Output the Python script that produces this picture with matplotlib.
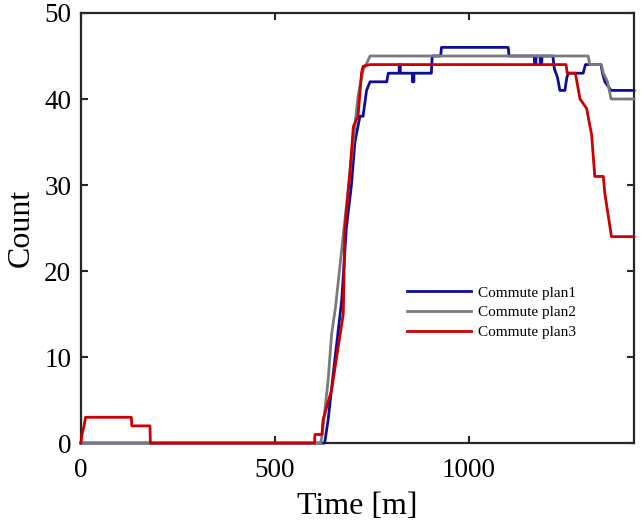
import matplotlib
matplotlib.use("Agg")
import matplotlib.pyplot as plt

plt.rcParams["font.family"] = ["Liberation Serif", "DejaVu Serif"]

# commute plan 1 (blue)
t_plan1 = [0, 628, 637, 650, 672, 684, 697, 706, 719, 727, 736, 745, 788, 792,
           820, 820, 823, 823, 854, 854, 858, 858, 903, 905, 927, 929, 1101, 1103,
           1168, 1169, 1172, 1173, 1183, 1184, 1187, 1188, 1216, 1220, 1228, 1234,
           1247, 1252, 1256, 1294, 1300, 1340, 1344, 1350, 1366, 1425]
c_plan1 = [0, 0, 2.7, 8, 16.6, 25, 30, 35, 38, 38, 41, 42, 42, 43,
           43, 44, 44, 43, 43, 42, 42, 43, 43, 45, 45, 46, 46, 45,
           45, 44, 44, 45, 45, 44, 44, 45, 45, 43.5, 42.5, 41,
           41, 42.5, 43, 43, 44, 44, 43, 42, 41, 41]

# commute plan 2 (gray)
t_plan2 = [0, 618, 622, 637, 646, 656, 678, 702, 714, 727, 736, 745,
           1307, 1311, 1341, 1346, 1357, 1366, 1425]
c_plan2 = [0, 0, 1.1, 7.3, 12.7, 15.8, 25, 35.2, 40.3, 43.4, 44.1, 45,
           45, 44, 44, 43, 42, 40, 40]

# commute plan 3 (red)
t_plan3 = [0, 3, 8, 12, 130, 131, 178, 179, 602, 603, 621, 624, 646, 676, 680,
           693, 702, 714, 723, 727, 745, 1250, 1253, 1274, 1286, 1303, 1316,
           1324, 1346, 1350, 1367, 1425]
c_plan3 = [0, 1, 2, 3, 3, 2, 2, 0, 0, 1, 1, 2.7, 6.2, 15, 24.8,
           31.4, 36.8, 38, 43, 43.8, 44, 44, 43, 43, 40, 38.9, 35.8,
           31, 31, 29, 24, 24]

fig = plt.figure(figsize=(6.42, 5.30), dpi=100)
ax = fig.add_axes([0.126, 0.164, 0.8615, 0.8115])

ax.plot(t_plan1, c_plan1, color="#0d0d99", lw=2.0, label="Commute plan1", zorder=3, clip_on=False)
ax.plot(t_plan2, c_plan2, color="#7a7a7a", lw=2.0, label="Commute plan2", zorder=3, clip_on=False)
ax.plot(t_plan3, c_plan3, color="#cc0000", lw=2.0, label="Commute plan3", zorder=3, clip_on=False)

ax.set_xlim(0, 1425)
ax.set_ylim(0, 50)
ax.set_xticks([0, 500, 1000])
ax.set_yticks([0, 10, 20, 30, 40, 50])
ax.tick_params(direction="in", length=5, width=1.5, labelsize=19.5, pad=7,
               top=True, right=True, color="#262626")
ax.tick_params(axis="x", pad=11)
for s in ax.spines.values():
    s.set_linewidth(1.6)
    s.set_color("#262626")

ax.set_xlabel("Time [m]", fontsize=23, labelpad=6)
ax.set_ylabel("Count", fontsize=23, labelpad=6)

ax.legend(loc="center left", bbox_to_anchor=(0.5895, 0.3035), frameon=False,
          fontsize=11, borderpad=0, borderaxespad=0, handlelength=4.2,
          handletextpad=0.45, labelspacing=0.4)

fig.savefig("out.png", dpi=100)
